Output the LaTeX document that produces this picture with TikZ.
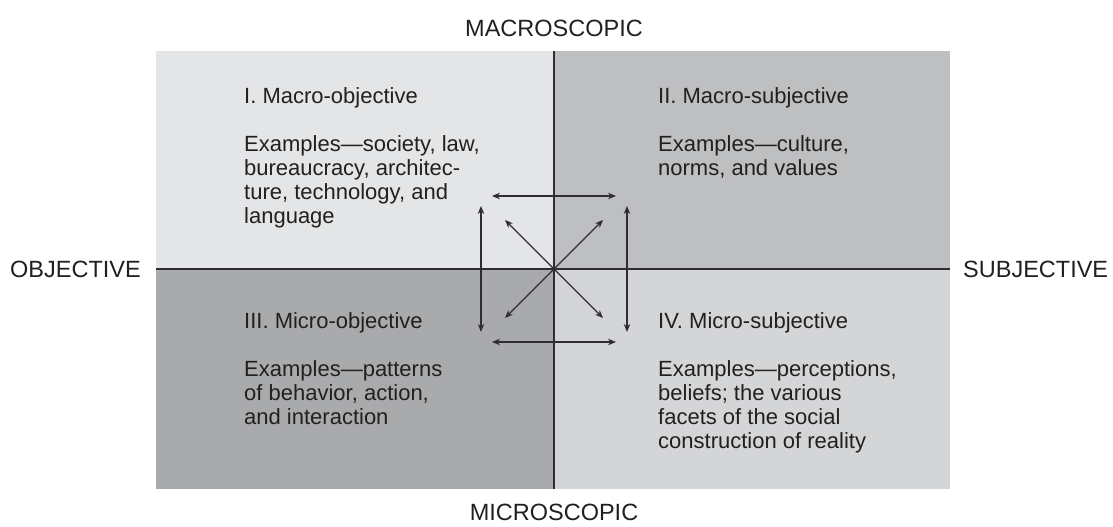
\documentclass[tikz,border=0pt]{standalone}
\usepackage{fontspec}
\setmainfont{Liberation Sans}
\usetikzlibrary{arrows.meta,positioning,calc}

\definecolor{quadI}{HTML}{E4E5E7}
\definecolor{quadII}{HTML}{BEBFC1}
\definecolor{quadIII}{HTML}{A9AAAC}
\definecolor{quadIV}{HTML}{D4D5D7}
\definecolor{inkgrey}{HTML}{231F20}
\definecolor{arrowgrey}{HTML}{2E2E30}

\begin{document}
\begin{tikzpicture}[x=1pt,y=-1pt,
    quadtext/.style={anchor=north west,align=left,inner sep=0pt,text=inkgrey,
        font=\fontsize{22}{24}\selectfont},
    axislabel/.style={inner sep=0pt,text=inkgrey,font=\fontsize{23.5}{26}\selectfont},
    twoway/.style={{Stealth[length=8pt,width=6.5pt]}-{Stealth[length=8pt,width=6.5pt]},
        line width=1.2pt,draw=arrowgrey},
    oneway/.style={-{Stealth[length=8pt,width=6.5pt]},line width=1.2pt,draw=arrowgrey}]

    \useasboundingbox (0,0) rectangle (1113,527);

    % Draw the four quadrants
    \fill[quadI]   (156,51)  rectangle (554,269);
    \fill[quadII]  (554,51)  rectangle (950,269);
    \fill[quadIII] (156,269) rectangle (554,489);
    \fill[quadIV]  (554,269) rectangle (950,489);

    % Axes
    \coordinate (c) at (554,269);
    \coordinate (west) at (156,269);
    \coordinate (east) at (950,269);
    \coordinate (north) at (554,51);
    \coordinate (south) at (554,489);
    \draw[line width=2.4pt,arrowgrey] (west) -- (east);
    \draw[line width=2.4pt,arrowgrey] (north) -- (south);

    \node[axislabel,anchor=base west] (objective) at (10,277) {OBJECTIVE};
    \node[axislabel,anchor=base west] (subjective) at (963,277) {SUBJECTIVE};
    \node[axislabel,anchor=base] (macro) at (554,37) {MACROSCOPIC};
    \node[axislabel,anchor=base] (micro) at (554,520) {MICROSCOPIC};

    % Quadrant texts
    \node[quadtext] (qI) at (244,87) {I. Macro-objective\\[24pt]
        Examples---society, law,\\bureaucracy, architec-\\ture, technology, and\\language};
    \node[quadtext] (qII) at (658,87) {II. Macro-subjective\\[24pt]
        Examples---culture,\\norms, and values};
    \node[quadtext] (qIII) at (244,312) {III. Micro-objective\\[24pt]
        Examples---patterns\\of behavior, action,\\and interaction};
    \node[quadtext] (qIV) at (658,312) {IV. Micro-subjective\\[24pt]
        Examples---perceptions,\\beliefs; the various\\facets of the social\\construction of reality};

    % Arrows between the quadrants
    \foreach \n/\x/\y in {tl/492/196,tr/616/196,bl/492/342,br/616/342}
        \coordinate (h\n) at (\x,\y);
    \foreach \n/\x/\y in {lt/481/206,lb/481/332,rt/627/206,rb/627/332}
        \coordinate (v\n) at (\x,\y);
    \draw[twoway] (htl) -- (htr);
    \draw[twoway] (hbl) -- (hbr);
    \draw[twoway] (vlt) -- (vlb);
    \draw[twoway] (vrt) -- (vrb);

    % Diagonals out of the centre
    \foreach \n/\dx/\dy in {ne/49/-49,nw/-49/-49,se/49/49,sw/-49/49} {
        \coordinate (d\n) at ($(c)+(\dx,\dy)$);
        \draw[oneway] (c) -- (d\n);
    }
\end{tikzpicture}
\end{document}
